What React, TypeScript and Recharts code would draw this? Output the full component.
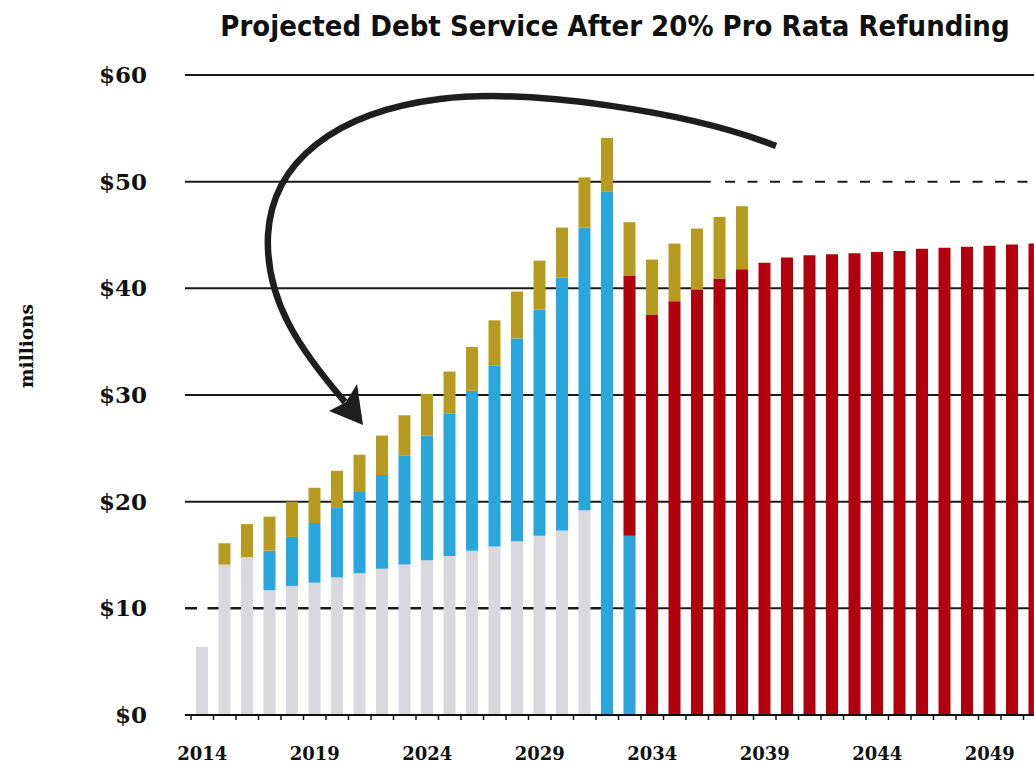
import React from 'react';
import { BarChart, Bar, XAxis, YAxis, CartesianGrid } from 'recharts';

const years = [
  '2014', '2015', '2016', '2017', '2018', '2019', '2020', '2021', '2022', '2023',
  '2024', '2025', '2026', '2027', '2028', '2029', '2030', '2031', '2032', '2033',
  '2034', '2035', '2036', '2037', '2038', '2039', '2040', '2041', '2042', '2043',
  '2044', '2045', '2046', '2047', '2048', '2049', '2050', '2051',
];

// $ millions, bottom to top of each stack
const existing = [
  6.4, 14.1, 14.8, 11.7, 12.1, 12.4, 12.9, 13.3, 13.7, 14.1,
  14.5, 14.9, 15.4, 15.8, 16.3, 16.8, 17.3, 19.2, 0, 0,
  0, 0, 0, 0, 0, 0, 0, 0, 0, 0,
  0, 0, 0, 0, 0, 0, 0, 0,
];
const deferred = [
  0, 0, 0, 3.7, 4.6, 5.6, 6.5, 7.6, 8.8, 10.2,
  11.7, 13.4, 15.0, 17.0, 19.0, 21.2, 23.7, 26.5, 49.1, 16.8,
  0, 0, 0, 0, 0, 0, 0, 0, 0, 0,
  0, 0, 0, 0, 0, 0, 0, 0,
];
const extended = [
  0, 0, 0, 0, 0, 0, 0, 0, 0, 0,
  0, 0, 0, 0, 0, 0, 0, 0, 0, 24.4,
  37.5, 38.8, 39.9, 40.9, 41.8, 42.4, 42.9, 43.1, 43.2, 43.3,
  43.4, 43.5, 43.7, 43.8, 43.9, 44.0, 44.1, 44.2,
];
const refunding = [
  0, 2.0, 3.1, 3.2, 3.3, 3.3, 3.5, 3.5, 3.7, 3.8,
  3.9, 3.9, 4.1, 4.2, 4.4, 4.6, 4.7, 4.7, 5.0, 5.0,
  5.2, 5.4, 5.7, 5.8, 5.9, 0, 0, 0, 0, 0,
  0, 0, 0, 0, 0, 0, 0, 0,
];
const yTicks = [0, 10, 20, 30, 40, 50, 60];

const data = years.map((year, i) => ({
  year,
  existing: existing[i],
  deferred: deferred[i],
  extended: extended[i],
  refunding: refunding[i],
}));

const CHART_W = 1046;
const CHART_H = 763;
const TOP = 75;
const X_AXIS_H = 48;
const PLOT_H = CHART_H - TOP - X_AXIS_H;
const Y_AXIS_W = 185;
const PAD_LEFT = 6;
const BAND = (CHART_W - Y_AXIS_W - PAD_LEFT) / years.length;
const serif = '"DejaVu Serif", "Liberation Serif", serif';
const INK = '#1a1a1a';

// grid line: $10 is dashed up to the 2032 bar, $50 turns dashed after 2036
const GridLine = (props: any) => {
  const { x1, x2, y1 } = props;
  const value = Math.round((60 * (TOP + PLOT_H - y1)) / PLOT_H);
  const bandStart = x1 + PAD_LEFT;
  if (value === 10) {
    const cut = bandStart + 18.5 * BAND;
    return (
      <g>
        <line x1={x1} x2={cut} y1={y1} y2={y1} stroke={INK} strokeWidth={2.5} strokeDasharray={`12 ${BAND - 12}`} />
        <line x1={cut} x2={x2} y1={y1} y2={y1} stroke={INK} strokeWidth={2} />
      </g>
    );
  }
  if (value === 50) {
    const cut = bandStart + 23.1 * BAND;
    const dashStart = bandStart + 24 * BAND - 6;
    return (
      <g>
        <line x1={x1} x2={cut} y1={y1} y2={y1} stroke={INK} strokeWidth={2} />
        <line x1={dashStart} x2={x2} y1={y1} y2={y1} stroke={INK} strokeWidth={2} strokeDasharray={`10 ${BAND - 10}`} />
      </g>
    );
  }
  return <line x1={x1} x2={x2} y1={y1} y2={y1} stroke={INK} strokeWidth={2} />;
};

const XTick = (props: any) => {
  const { x, y, payload } = props;
  const yr = Number(payload.value);
  return (
    <g>
      <line x1={x - BAND / 2} x2={x - BAND / 2} y1={y} y2={y + 5} stroke="#111" strokeWidth={1.5} />
      {(yr - 2014) % 5 === 0 && (
        <text x={x} y={y + 45} textAnchor="middle" fontFamily={serif} fontWeight="bold" fontSize={18} fill="#111">
          {payload.value}
        </text>
      )}
    </g>
  );
};

const YTick = (props: any) => {
  const { x, y, payload } = props;
  return (
    <text x={x} y={y + 8} textAnchor="end" fontFamily={serif} fontWeight="bold" fontSize={23} fill="#111">
      ${payload.value}
    </text>
  );
};

export default function App() {
  return (
    <div style={{ position: 'fixed', left: 0, top: 0, width: 1034, height: 763, overflow: 'hidden', background: '#fff' }}>
      <BarChart
        width={CHART_W}
        height={CHART_H}
        data={data}
        margin={{ top: TOP, right: 0, bottom: 0, left: 0 }}
        barSize={12}
      >
        <CartesianGrid vertical={false} horizontal={(p: any) => <GridLine key={p.key ?? p.index} {...p} />} />
        <XAxis
          dataKey="year"
          height={X_AXIS_H}
          interval={0}
          padding={{ left: PAD_LEFT, right: 0 }}
          axisLine={{ stroke: '#111', strokeWidth: 2 }}
          tickLine={false}
          tickSize={0}
          tickMargin={0}
          tick={<XTick />}
        />
        <YAxis
          width={Y_AXIS_W}
          domain={[0, 60]}
          ticks={yTicks}
          axisLine={false}
          tickLine={false}
          tickSize={0}
          tickMargin={38}
          tick={<YTick />}
        />
        <Bar dataKey="existing" stackId="a" fill="#d8d8dd" isAnimationActive={false} />
        <Bar dataKey="deferred" stackId="a" fill="#29a7dc" isAnimationActive={false} />
        <Bar dataKey="extended" stackId="a" fill="#b3000f" isAnimationActive={false} />
        <Bar dataKey="refunding" stackId="a" fill="#b69b20" isAnimationActive={false} />
      </BarChart>
      <svg width={1034} height={763} style={{ position: 'absolute', left: 0, top: 0, pointerEvents: 'none' }}>
        <text
          x={615}
          y={36}
          textAnchor="middle"
          fontFamily='"DejaVu Sans Condensed", "DejaVu Sans", sans-serif'
          fontStretch="condensed"
          fontWeight="bold"
          fontSize={29}
          fill="#111"
        >
          Projected Debt Service After 20% Pro Rata Refunding
        </text>
        <text
          x={0}
          y={0}
          transform="translate(33 346) rotate(-90)"
          textAnchor="middle"
          fontFamily={serif}
          fontWeight="bold"
          fontSize={18.5}
          fill="#111"
        >
          millions
        </text>
        <path
          d="M 776 146 C 690 112, 530 88, 440 99 C 335 112, 272 162, 268 235 C 265 300, 300 350, 345 402"
          fill="none"
          stroke="#1e1e1e"
          strokeWidth={6.5}
        />
        <polygon points="363,425 329,411 346,402 357,384" fill="#1e1e1e" />
      </svg>
    </div>
  );
}
